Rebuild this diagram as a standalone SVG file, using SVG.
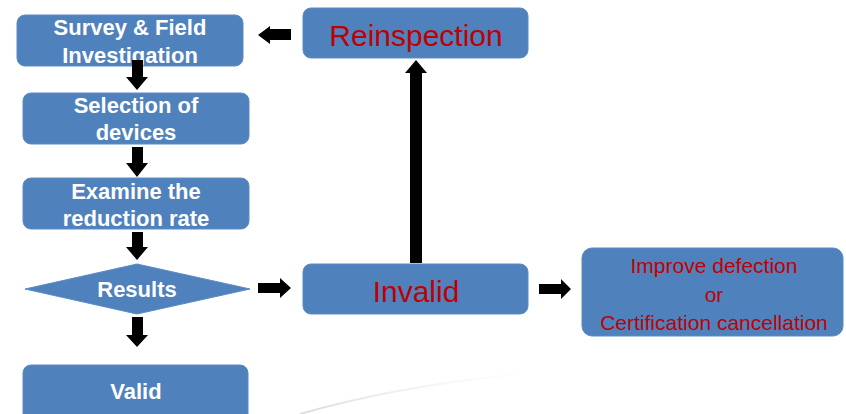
<svg xmlns="http://www.w3.org/2000/svg" width="846" height="414" viewBox="0 0 846 414">
<style>
.box{fill:#4F81BD;stroke:#5B8BC4;stroke-width:1}
.wt{fill:#FFFFFF;font-family:"Liberation Sans",Arial,sans-serif;font-weight:bold;font-size:22px;text-anchor:middle}
.rt{fill:#C00000;font-family:"Liberation Sans",Arial,sans-serif;text-anchor:middle}
.arr{fill:#000000}
</style>
<defs>
<linearGradient id="sw" x1="0" y1="0" x2="1" y2="0">
<stop offset="0" stop-color="#D4D4D4" stop-opacity="0.8"/>
<stop offset="1" stop-color="#EAEAEA" stop-opacity="0"/>
</linearGradient>
</defs>
<rect width="846" height="414" fill="#FFFFFF"/>
<path d="M300,414 Q400,385 530,373" fill="none" stroke="url(#sw)" stroke-width="2"/>
<g id="survey"><rect class="box" x="17" y="15" width="226" height="51" rx="8"/>
<text class="wt" x="130" y="35">Survey &amp; Field</text><text class="wt" x="130" y="63">Investigation</text></g>
<g id="selection"><rect class="box" x="23" y="93" width="226" height="51" rx="8"/>
<text class="wt" x="136" y="113">Selection of</text><text class="wt" x="136" y="140">devices</text></g>
<g id="examine"><rect class="box" x="23" y="178" width="226" height="51" rx="8"/>
<text class="wt" x="136" y="199">Examine the</text><text class="wt" x="136" y="226">reduction rate</text></g>
<g id="results"><polygon class="box" points="25,289 137,264 250,289 137,314"/>
<text class="wt" x="137" y="297">Results</text></g>
<g id="valid"><rect class="box" x="23" y="365" width="225" height="60" rx="8"/>
<text class="wt" x="136" y="399">Valid</text></g>
<g id="reinspection"><rect class="box" x="303" y="8" width="225" height="50" rx="8"/>
<text class="rt" x="416" y="46" font-size="30">Reinspection</text></g>
<g id="invalid"><rect class="box" x="303" y="264" width="225" height="50" rx="8"/>
<text class="rt" x="416" y="302" font-size="30">Invalid</text></g>
<g id="improve"><rect class="box" x="582" y="248" width="261" height="88" rx="10"/>
<text class="rt" x="714" y="273" font-size="21">Improve defection</text>
<text class="rt" x="714" y="302" font-size="21">or</text>
<text class="rt" x="714" y="330" font-size="21">Certification cancellation</text></g>
<g id="connectors">
<polygon class="arr" points="132,60 143,60 143,77 148,77 137,90 126,77 132,77"/>
<polygon class="arr" points="132,147 143,147 143,163 148,163 137,177 126,163 132,163"/>
<polygon class="arr" points="132,232 143,232 143,247 148,247 137,260 126,247 132,247"/>
<polygon class="arr" points="132,317 143,317 143,335 148,335 137,347 126,335 132,335"/>
<polygon class="arr" points="291,29 291,40 270,40 270,44 258,35 270,26 270,29"/>
<polygon class="arr" points="258,283 280,283 280,278 291,288 280,298 280,293 258,293"/>
<polygon class="arr" points="539,284 561,284 561,279 571,289 561,299 561,294 539,294"/>
<polygon class="arr" points="410,263 410,73 405,73 416,60 427,73 422,73 422,263"/>
</g>
</svg>
